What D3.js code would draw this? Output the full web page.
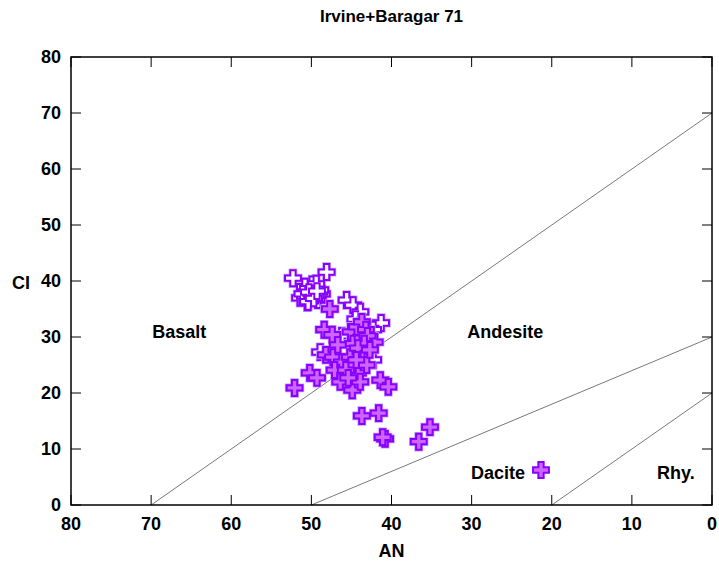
<!DOCTYPE html>
<html>
<head>
<meta charset="utf-8">
<script src="https://cdn.jsdelivr.net/npm/d3@7"></script>
<style>
  body { margin: 0; background: #fff; }
  text { font-family: "Liberation Sans", Arial, sans-serif; }
</style>
</head>
<body>
<svg id="chart" width="719" height="569"></svg>
<script>
// open (white) crosses
const openAN = [52.3, 48.1, 51.4, 50.8, 50.2, 49.6, 49.2, 48.7, 50.5, 49.9, 45.6, 44.8, 43.9, 41.3, 42.3,
    48.9, 42.3, 46.2, 43.6, 44.5, 50.8, 49.0, 51.1, 49.9, 48.9, 50.4, 49.4,
    50.0, 49.5, 50.3, 49.7, 49.3, 43.5, 43.0, 43.8, 43.2, 44.0, 42.8];
const openCI = [40.5, 41.6, 37.0, 37.3, 38.4, 38.8, 36.6, 37.7, 36.2, 39.4, 36.6, 35.7, 34.5, 32.5, 31.3,
    27.3, 25.9, 30.2, 31.3, 33.2, 39.0, 38.0, 37.7, 37.1, 38.4, 36.3, 39.5,
    37.8, 37.4, 38.0, 36.9, 38.2, 30.5, 29.6, 29.0, 31.0, 32.0, 28.5];

// filled crosses (Dacite series)
const filledAN = [48.4, 47.4, 45.1, 44.3, 44.8, 43.7, 42.7, 42.1, 48.2, 47.3, 46.2, 45.2, 44.2, 44.8, 47.1,
    46.4, 44.9, 43.9, 50.2, 49.3, 52.1, 41.4, 40.4, 43.1, 43.6, 47.7, 43.7, 41.6, 40.8, 41.1, 36.6, 35.2,
    43.7, 43.2, 43.0, 43.4, 44.2, 42.7, 45.7, 45.4, 44.4, 46.7];
const filledCI = [31.3, 30.4, 30.9, 31.8, 28.8, 27.5, 28.9, 29.1, 26.8, 26.4, 25.5, 26.4, 23.6, 25.0, 24.1,
    22.0, 20.5, 22.0, 23.6, 22.7, 20.9, 22.3, 21.1, 25.0, 29.8, 35.0, 15.9, 16.4, 11.8, 12.1, 11.3, 13.9,
    32.7, 31.3, 30.2, 28.8, 28.0, 27.7, 24.1, 22.7, 25.9, 28.6];

// field boundaries [AN0, CI0, AN1, CI1]
const boundaries = [[70, 0, 0, 70], [50, 0, 0, 30], [20, 0, 0, 20]];
const fieldNames = ["Basalt", "Andesite", "Rhy."];
const fieldAN = [66.5, 25.8, 4.5];
const fieldCI = [30.9, 30.9, 5.7];

const tickVals = [0, 10, 20, 30, 40, 50, 60, 70, 80];

const svg = d3.select("#chart");
const pL = 71, pR = 712, pT = 57, pB = 505;

const x = d3.scaleLinear().domain([80, 0]).range([pL, pR]);
const y = d3.scaleLinear().domain([0, 80]).range([pB, pT]);

// boundary lines
svg.append("g").selectAll("line")
    .data(boundaries)
    .enter().append("line")
    .attr("x1", d => x(d[0])).attr("y1", d => y(d[1]))
    .attr("x2", d => x(d[2])).attr("y2", d => y(d[3]))
    .attr("stroke", "#555").attr("stroke-width", 0.8);

// inward ticks on all four sides
const tk = svg.append("g").attr("stroke", "#000").attr("stroke-width", 1);
tickVals.forEach(v => {
    tk.append("line").attr("x1", x(v)).attr("x2", x(v)).attr("y1", pB).attr("y2", pB - 10);
    tk.append("line").attr("x1", x(v)).attr("x2", x(v)).attr("y1", pT).attr("y2", pT + 10);
    tk.append("line").attr("y1", y(v)).attr("y2", y(v)).attr("x1", pL).attr("x2", pL + 10);
    tk.append("line").attr("y1", y(v)).attr("y2", y(v)).attr("x1", pR).attr("x2", pR - 10);
});

// frame
svg.append("rect")
    .attr("x", pL).attr("y", pT)
    .attr("width", pR - pL).attr("height", pB - pT)
    .attr("fill", "none").attr("stroke", "#000").attr("stroke-width", 1.5);

// tick labels
svg.append("g").selectAll("text")
    .data(tickVals).enter().append("text")
    .attr("x", d => x(d)).attr("y", pB + 25)
    .attr("text-anchor", "middle")
    .attr("font-size", 18).attr("font-weight", "bold")
    .text(d => d);
svg.append("g").selectAll("text")
    .data(tickVals).enter().append("text")
    .attr("x", pL - 10).attr("y", d => y(d) + 6)
    .attr("text-anchor", "end")
    .attr("font-size", 18).attr("font-weight", "bold")
    .text(d => d);

// titles
svg.append("text").attr("x", (pL + pR) / 2).attr("y", 22)
    .attr("text-anchor", "middle").attr("font-size", 17).attr("font-weight", "bold")
    .text("Irvine+Baragar 71");
svg.append("text").attr("x", (pL + pR) / 2).attr("y", 557)
    .attr("text-anchor", "middle").attr("font-size", 18).attr("font-weight", "bold")
    .text("AN");
svg.append("text").attr("x", 21).attr("y", 289)
    .attr("text-anchor", "middle").attr("font-size", 18).attr("font-weight", "bold")
    .text("CI");

// field labels
svg.append("g").selectAll("text")
    .data(fieldNames).enter().append("text")
    .attr("x", (d, i) => x(fieldAN[i])).attr("y", (d, i) => y(fieldCI[i]) + 6)
    .attr("text-anchor", "middle")
    .attr("font-size", 18).attr("font-weight", "bold")
    .text(d => d);

// points
const cross = d3.symbol().type(d3.symbolCross).size(140);
const purple = "#8800ff", lilac = "#cc66ff";

function drawPoints(an, ci, fill) {
    const g = svg.append("g");
    const pts = an.map((a, i) => [a, ci[i]]);
    g.selectAll("path.halo").data(pts).enter().append("path")
        .attr("class", "halo")
        .attr("d", cross)
        .attr("transform", d => `translate(${x(d[0])},${y(d[1])})`)
        .attr("fill", "none").attr("stroke", "#c9a0ff").attr("stroke-width", 3.5);
    g.selectAll("path.pt").data(pts).enter().append("path")
        .attr("class", "pt")
        .attr("d", cross)
        .attr("transform", d => `translate(${x(d[0])},${y(d[1])})`)
        .attr("fill", fill).attr("stroke", purple).attr("stroke-width", 2);
}
drawPoints(openAN, openCI, "#fff");
drawPoints(filledAN, filledCI, lilac);

// key
svg.append("text").attr("x", 525).attr("y", 479)
    .attr("text-anchor", "end").attr("font-size", 18).attr("font-weight", "bold")
    .text("Dacite");
svg.append("path").attr("d", cross)
    .attr("transform", "translate(541,470)")
    .attr("fill", lilac).attr("stroke", purple).attr("stroke-width", 2);
</script>
</body>
</html>
